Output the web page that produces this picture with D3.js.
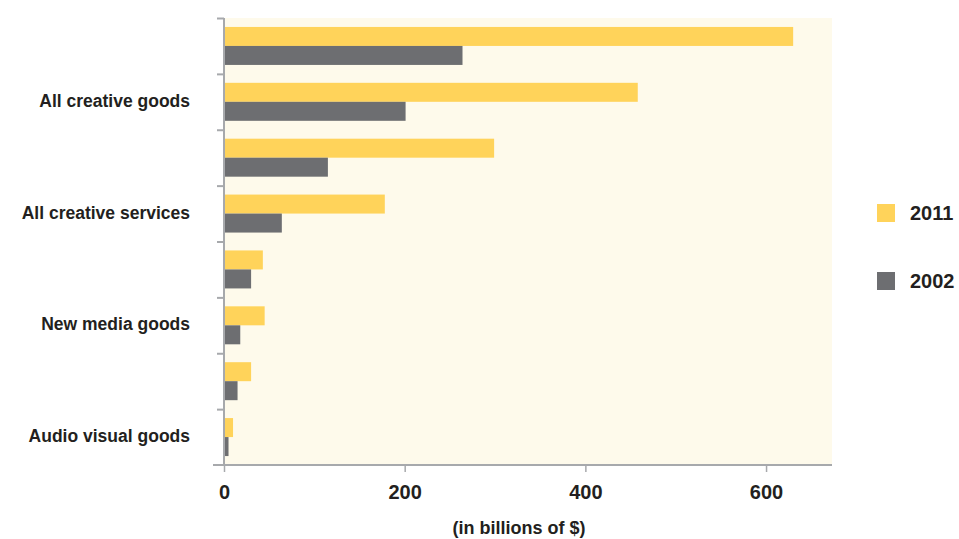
<!DOCTYPE html>
<html lang="en">
<head>
    <meta charset="UTF-8">
    <script src="https://d3js.org/d3.v7.min.js"></script>
    <style>
        body { margin: 0; background: #fff; }
        text { font-family: "Liberation Sans", Arial, sans-serif; fill: #231f20; }
    </style>
</head>
<body>
<svg id="chart" width="959" height="539"></svg>
<script>
    // only every other band carries a label in the original
    var categoryLabels = ["", "All creative goods", "", "All creative services", "", "New media goods", "", "Audio visual goods"];
    var values2011 = [630, 458, 299, 178, 43, 45, 30, 10];
    var values2002 = [264, 201, 115, 64, 30, 18, 15, 5];
    var seriesNames = ["2011", "2002"];
    var xTicks = [0, 200, 400, 600];

    var colors = {"2011": "#ffd35a", "2002": "#6d6e71"};
    var margin = {top: 18, left: 224, right: 127, bottom: 74};
    var width = 959 - margin.left - margin.right;
    var height = 539 - margin.top - margin.bottom;

    var svg = d3.select("#chart");
    var g = svg.append("g").attr("transform", "translate(" + margin.left + "," + margin.top + ")");

    var idx = d3.range(categoryLabels.length);
    var y = d3.scaleBand().domain(idx).range([0, height]).paddingInner(0.32).paddingOuter(0.16);
    var ySub = d3.scaleBand().domain(seriesNames).range([0, y.bandwidth()]);
    var x = d3.scaleLinear().domain([0, 673]).range([0, width]);

    g.append("rect")
        .attr("x", 0).attr("y", 0)
        .attr("width", width).attr("height", height)
        .attr("fill", "#fefaeb");

    var rows = idx.map(function (i) {
        return {i: i, vals: [{s: "2011", v: values2011[i]}, {s: "2002", v: values2002[i]}]};
    });

    var grp = g.selectAll(".row").data(rows).enter().append("g")
        .attr("transform", function (d) { return "translate(0," + y(d.i) + ")"; });
    grp.selectAll("rect").data(function (d) { return d.vals; }).enter().append("rect")
        .attr("x", 0)
        .attr("y", function (d) { return ySub(d.s); })
        .attr("height", ySub.bandwidth())
        .attr("width", function (d) { return x(d.v); })
        .attr("fill", function (d) { return colors[d.s]; });

    // left axis: band boundaries as ticks
    var yLine = d3.scaleLinear().domain([0, idx.length]).range([0, height]);
    var yAxis = g.append("g")
        .call(d3.axisLeft(yLine).tickValues(d3.range(idx.length)).tickSize(7).tickFormat(""));
    yAxis.select(".domain").attr("stroke", "#a7a9ac").attr("stroke-width", 2).attr("d", "M0,0V" + height);
    yAxis.selectAll(".tick line").attr("stroke", "#a7a9ac").attr("stroke-width", 2);

    g.selectAll(".cat").data(idx).enter().append("text")
        .attr("x", -34)
        .attr("y", function (i) { return y(i) + y.bandwidth() / 2 - 1; })
        .attr("dy", "0.35em")
        .attr("text-anchor", "end")
        .attr("font-size", 17.5)
        .attr("font-weight", "bold")
        .text(function (i) { return categoryLabels[i]; });

    var xAxis = g.append("g").attr("transform", "translate(0," + height + ")")
        .call(d3.axisBottom(x).tickValues(xTicks).tickSize(7).tickPadding(13));
    xAxis.select(".domain").attr("stroke", "#a7a9ac").attr("stroke-width", 2).attr("d", "M-11,0H" + width);
    xAxis.selectAll(".tick line").attr("stroke", "#a7a9ac").attr("stroke-width", 1.5);
    xAxis.selectAll(".tick text").attr("font-size", 20).attr("font-weight", "bold")
        .style("font-family", "'Liberation Sans', Arial, sans-serif").attr("fill", "#231f20");

    g.append("text")
        .attr("x", 295).attr("y", height + 69)
        .attr("text-anchor", "middle")
        .attr("font-size", 18)
        .attr("font-weight", "bold")
        .text("(in billions of $)");

    var legend = svg.append("g").attr("transform", "translate(877,204)");
    var li = legend.selectAll("g").data(seriesNames).enter().append("g")
        .attr("transform", function (d, i) { return "translate(0," + i * 68 + ")"; });
    li.append("rect").attr("width", 18).attr("height", 18).attr("fill", function (d) { return colors[d]; });
    li.append("text").attr("x", 33).attr("y", 9).attr("dy", "0.35em")
        .attr("font-size", 20).attr("font-weight", "bold")
        .text(function (d) { return d; });
</script>
</body>
</html>
